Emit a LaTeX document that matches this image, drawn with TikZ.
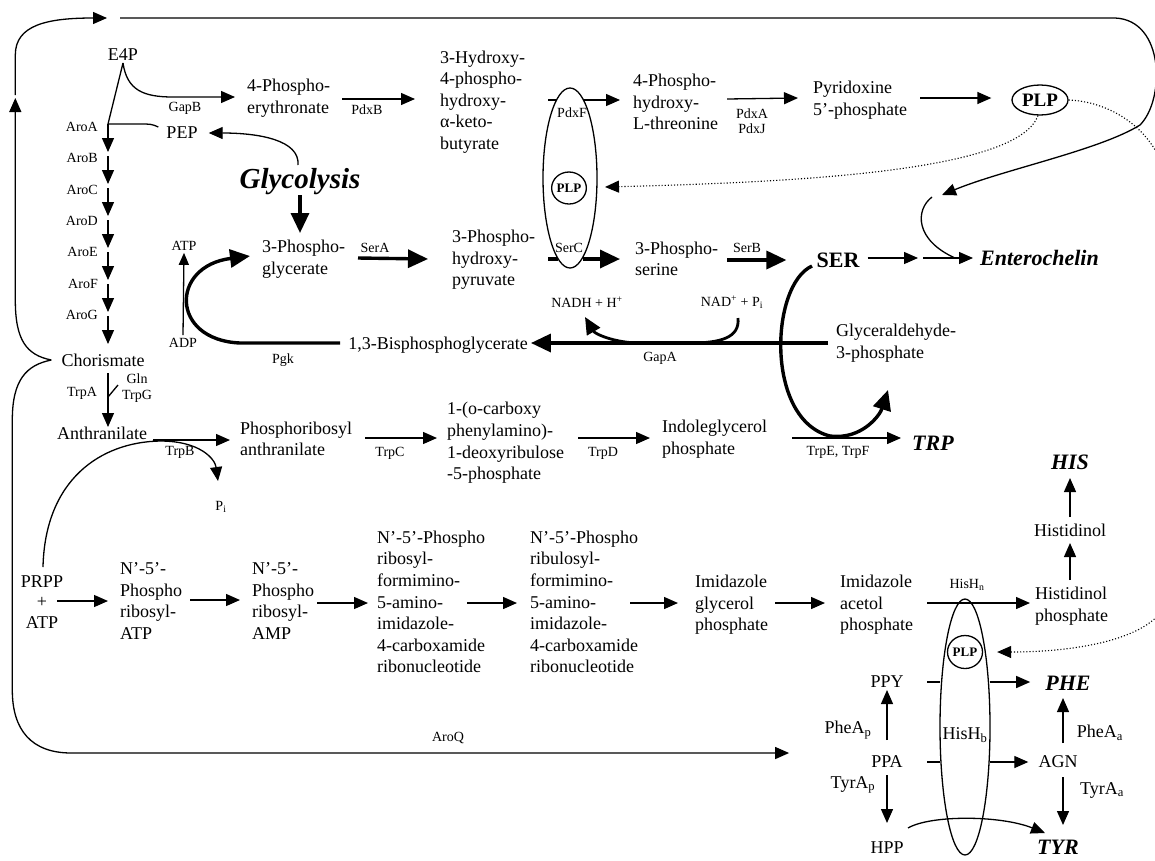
\documentclass[tikz,border=0pt]{standalone}
\usepackage{fontspec}
\setmainfont{Liberation Serif}
\usetikzlibrary{arrows.meta,shapes.geometric,calc}
\begin{document}
\begin{tikzpicture}[x=1pt,y=-1pt,
  txt/.style={inner sep=0pt, font=\fontsize{18}{21.6}\selectfont, align=left},
  ctxt/.style={inner sep=0pt, font=\fontsize{18}{20.5}\selectfont, align=center},
  lab/.style={inner sep=0pt, font=\fontsize{14}{15.5}\selectfont, align=center},
  bigbi/.style={inner sep=0pt, font=\fontsize{22}{24}\selectfont\bfseries\itshape},
  ln/.style={line width=1.3pt},
  tln/.style={line width=3.4pt},
  arr/.style={line width=1.3pt, -{Triangle[length=14pt,width=12pt]}},
  sarr/.style={line width=1.3pt, -{Triangle[length=12pt,width=10pt]}},
  marr/.style={line width=2.8pt, -{Triangle[length=17pt,width=15pt]}},
  tarr/.style={line width=3.4pt, -{Triangle[length=20pt,width=18pt]}},
  dotln/.style={line width=1.1pt, dotted, -{Triangle[length=14pt,width=12pt]}},
  enz/.style={draw, ellipse, line width=1.3pt, inner sep=0pt},
  plpsmall/.style={draw, ellipse, line width=1.3pt, inner sep=0pt, minimum width=33pt, minimum height=32pt, font=\fontsize{13}{14}\selectfont\bfseries}
]
\useasboundingbox (0,0) rectangle (1155,860);
\fill[white] (0,0) rectangle (1155,860);

% ---------- nodes: top part ----------
\node[txt] (e4p) at (123,55) {E4P};
\node[txt] (pep) at (182,133) {PEP};
\node[txt,anchor=west] (ery) at (247,98) {4-Phospho-\\erythronate};
\node[txt,anchor=west] (hkb) at (440,102) {3-Hydroxy-\\4-phospho-\\hydroxy-\\α-keto-\\butyrate};
\node[txt,anchor=west] (phlt) at (633,102) {4-Phospho-\\hydroxy-\\L-threonine};
\node[txt,anchor=west] (pyr) at (813,100) {Pyridoxine\\5’-phosphate};
\node[enz, minimum width=56pt, minimum height=30pt, font=\fontsize{19}{20}\selectfont\bfseries] (plp1) at (1040,100) {PLP};
\node[enz, minimum width=54pt, minimum height=180pt] (ell1) at (570,178) {};
\node[plpsmall] (plp2) at (569,188) {PLP};
\node[lab] (pdxf) at (572,113) {PdxF};
\node[lab] (serc) at (569,248) {SerC};
\node[inner sep=0pt, font=\fontsize{29}{30}\selectfont\bfseries\itshape] (glyc) at (300,182) {Glycolysis};
\node[txt,anchor=west] (pgly) at (262,259) {3-Phospho-\\glycerate};
\node[txt,anchor=west] (php) at (452,260) {3-Phospho-\\hydroxy-\\pyruvate};
\node[txt,anchor=west] (pser) at (635,259) {3-Phospho-\\serine};
\node[inner sep=0pt, font=\fontsize{22}{24}\selectfont\bfseries] (ser) at (838,260) {SER};
\node[bigbi,anchor=west] (ent) at (980,258) {Enterochelin};
\node[lab] (atp1) at (184,246) {ATP};
\node[lab] (adp) at (183,343) {ADP};
\node[lab] (pgk) at (283,360) {Pgk};
\node[txt] (bpg) at (438,345) {1,3-Bisphosphoglycerate};
\node[lab] (gapa) at (660,358) {GapA};
\node[lab] (nadh) at (587,302) {NADH + H\textsuperscript{+}};
\node[lab] (nad) at (732,302) {NAD\textsuperscript{+} + P\textsubscript{i}};
\node[txt,anchor=west] (gap) at (836,343) {Glyceraldehyde-\\3-phosphate};
\node[lab] (gapb) at (185,108) {GapB};
\node[lab] (pdxb) at (367,110) {PdxB};
\node[lab] (pdxaj) at (752,121) {PdxA\\PdxJ};
\node[lab] (sera) at (375,248) {SerA};
\node[lab] (serb) at (747,248) {SerB};
\foreach \n/\y in {A/127,B/158,C/190,D/221,E/252,F/284,G/315}
  \node[lab,anchor=east] (aro\n) at (98,\y) {Aro\n};

% ---------- tryptophan ----------
\node[txt] (chor) at (103,360) {Chorismate};
\node[lab] (trpa) at (82,393) {TrpA};
\node[lab] (glnt) at (137,388) {Gln\\TrpG};
\node[txt] (anth) at (102,433) {Anthranilate};
\node[lab] (trpb) at (180,452) {TrpB};
\node[lab] (pi1) at (221,507) {P\textsubscript{i}};
\node[txt,anchor=west] (pra) at (240,439) {Phosphoribosyl\\anthranilate};
\node[lab] (trpc) at (390,453) {TrpC};
\node[txt,anchor=west] (cdrp) at (447,443) {1-(o-carboxy\\phenylamino)-\\1-deoxyribulose\\-5-phosphate};
\node[lab] (trpd) at (603,453) {TrpD};
\node[txt,anchor=west] (igp) at (662,439) {Indoleglycerol\\phosphate};
\node[lab] (trpef) at (838,452) {TrpE, TrpF};
\node[bigbi] (trp) at (933,443) {TRP};

% ---------- histidine ----------
\node[bigbi] (his) at (1070,462) {HIS};
\node[txt] (hol) at (1070,530) {Histidinol};
\node[txt,anchor=west] (holp) at (1035,606) {Histidinol\\phosphate};
\node[ctxt] (prpp) at (42,602) {PRPP\\+\\ATP};
\node[txt,anchor=west] (prt) at (120,601) {N’-5’-\\Phospho\\ribosyl-\\ATP};
\node[txt,anchor=west] (pra2) at (252,601) {N’-5’-\\Phospho\\ribosyl-\\AMP};
\node[txt,anchor=west] (ff1) at (377,602) {N’-5’-Phospho\\ribosyl-\\formimino-\\5-amino-\\imidazole-\\4-carboxamide\\ribonucleotide};
\node[txt,anchor=west] (ff2) at (530,602) {N’-5’-Phospho\\ribulosyl-\\formimino-\\5-amino-\\imidazole-\\4-carboxamide\\ribonucleotide};
\node[txt,anchor=west] (igp2) at (695,605) {Imidazole\\glycerol\\phosphate};
\node[txt,anchor=west] (iap) at (840,605) {Imidazole\\acetol\\phosphate};
\node[lab] (hishn) at (967,585) {HisH\textsubscript{n}};

% ---------- aromatic ----------
\node[enz, minimum width=50pt, minimum height=256pt] (ell2) at (965,727) {};
\node[plpsmall, minimum width=35pt, minimum height=33pt] (plp3) at (965,652) {PLP};
\node[txt] (hishb) at (965,735) {HisH\textsubscript{b}};
\node[txt] (ppy) at (887,682) {PPY};
\node[bigbi] (phe) at (1068,683) {PHE};
\node[txt] (pheap) at (848,730) {PheA\textsubscript{p}};
\node[txt] (ppa) at (887,762) {PPA};
\node[txt] (agn) at (1058,762) {AGN};
\node[txt] (tyrap) at (853,785) {TyrA\textsubscript{p}};
\node[txt] (hpp) at (887,848) {HPP};
\node[bigbi] (tyr) at (1058,847) {TYR};
\node[txt] (pheaa) at (1100,733) {PheA\textsubscript{a}};
\node[txt] (tyraa) at (1102,790) {TyrA\textsubscript{a}};
\node[lab] (aroq) at (448,738) {AroQ};

% ---------- coordinates ----------
\coordinate (jA) at (108,124);
\coordinate (brace) at ($(chor.west)+(-10,0)$);
\coordinate (tl) at ($(e4p)+(-3,-37)$);

% ---------- connectors: top ----------
\draw[ln] ($(e4p)+(0,8)$) -- (jA);
\draw[arr] ($(e4p)+(0,8)$) .. controls +(4,27) and +(-30,0) .. ($(e4p)+(50,42)$) -- ($(ery.west)+(-12,-1)$);
\draw[ln] (jA) -- ++(33,0) .. controls +(8,0) and +(-6,-3) .. ($(pep.west)+(-8,-6)$);
\foreach \k in {0,...,6} \draw[arr] ($(jA)+(0,32*\k)$) -- ++(0,28);
\draw[arr] ($(ery.west)+(95,1)$) -- ($(hkb.west)+(-25,-3)$);
\draw[ln] ($(hkb.west)+(108,-2)$) -- ++(9,0);
\draw[arr] ($(ell1)+(14,-78)$) -- ($(phlt.west)+(-13,-2)$);
\draw[arr] ($(phlt.west)+(94,-3)$) -- ($(pyr.west)+(-15,-2)$);
\draw[arr] ($(pyr.west)+(107,-2)$) -- ($(plp1.west)+(-20,-2)$);

\draw[arr] ($(glyc)+(-2,-17)$) .. controls +(2,-25) and +(50,0) .. ($(pep.east)+(11,0)$);
\draw[tarr] ($(glyc)+(0,13)$) -- ($(glyc)+(0,51)$);
\draw[tarr] ($(pgly.west)+(96,-1)$) -- ($(php.west)+(-24,-1)$);
\draw[tln] ($(php.west)+(96,-1)$) -- ++(10,0);
\draw[tarr] ($(ell1)+(13,81)$) -- ($(pser.west)+(-15,0)$);
\draw[tarr] ($(pser.west)+(92,1)$) -- ($(ser.west)+(-30,0)$);
\draw[arr] ($(ser.east)+(8,-2)$) -- ($(ent.west)+(-62,0)$);
\draw[arr] ($(ent.west)+(-57,0)$) -- ($(ent.west)+(-7,0)$);
\draw[ln] ($(ent.west)+(-48,-61)$) .. controls +(-17,13) and +(-40,-18) .. ($(ent.west)+(-25,0)$);

% glycolysis lower part
\draw[tarr] ($(gap.west)+(-8,0)$) -- ($(bpg.east)+(3,-2)$);
\draw[marr] ($(nad)+(6,16)$) .. controls +(2,20) and +(30,0) .. ($(gapa)+(30,-15)$) -- ($(gapa)+(-20,-15)$) .. controls +(-25,0) and +(10,17) .. ($(nadh)+(-2,15)$);
\draw[tarr] ($(bpg.west)+(-8,-2)$) -- ($(pgk)+(-43,-17)$) .. controls +(-70,-3) and +(-80,10) .. ($(pgly.west)+(-12,-3)$);
\draw[sarr] ($(adp.north)+(0,-3)$) -- ($(atp1.south)+(0,2)$);

% serine to tryptophan
\draw[tarr] ($(ser)+(-26,6)$) .. controls +(-42,19) and +(-65,-16) .. ($(trpef)+(-8,-16)$) .. controls +(32,4) and +(-8,25) .. ($(trp)+(-45,-53)$);

% big loops
\draw[arr] (brace) .. controls +(-25,-5) and +(0,40) .. ($(brace)+(-36,-60)$) -- ($(brace)+(-36,-262)$);
\draw[arr] ($(brace)+(-36,-265)$) -- ($(brace)+(-36,-305)$) .. controls +(0,-30) and +(-60,0) .. ($(e4p)+(-16,-37)$);
\draw[arr] (tl) -- ($(plp1)+(75,-82)$) .. controls +(50,2) and +(25,-25) .. ($(plp1)+(100,25)$) .. controls +(-40,25) and +(60,-25) .. ($(ent.west)+(-38,-63)$);
\draw[arr] (brace) .. controls +(-25,5) and +(0,-40) .. ($(brace)+(-39,60)$) -- ($(brace)+(-39,330)$) .. controls +(0,40) and +(-40,0) .. ($(brace)+(20,393)$) -- ($(ppa.west)+(-82,-9)$);

% dotted PLP
\draw[dotln] ($(plp1.south)+(-2,0)$) .. controls +(-20,55) and +(200,-5) .. ($(plp2.east)+(18,-1)$);
\draw[dotln] (plp1.east) .. controls +(50,2) and +(0,-60) .. ($(plp1.east)+(100,100)$) -- ($(plp1.east)+(100,490)$) .. controls +(0,45) and +(90,0) .. ($(plp3.east)+(14,0)$);

% ---------- connectors: tryptophan ----------
\draw[arr] ($(chor)+(5,13)$) -- ($(anth)+(6,-6)$);
\draw[ln] ($(chor)+(5,37)$) -- ++(10,-12);
\draw[arr] ($(anth.east)+(6,7)$) -- ($(pra.west)+(-10,1)$);
\draw[arr] ($(prpp)+(1,-35)$) .. controls +(2,-87) and +(-60,1) .. ($(anth.east)+(13,8)$) .. controls +(40,0) and +(-3,-22) .. ($(pi1)+(-3,-26)$);
\draw[arr] ($(pra.west)+(125,-1)$) -- ($(cdrp.west)+(-10,-5)$);
\draw[arr] ($(cdrp.west)+(131,-5)$) -- ($(igp.west)+(-12,-1)$);
\draw[arr] ($(igp.west)+(130,-1)$) -- ($(trp.west)+(-11,-5)$);

% ---------- connectors: histidine ----------
\draw[arr] ($(prpp)+(15,-1)$) -- ($(prt.west)+(-12,0)$);
\draw[arr] ($(prt.west)+(70,-1)$) -- ($(pra2.west)+(-12,-1)$);
\draw[arr] ($(pra2.west)+(65,2)$) -- ($(ff1.west)+(-9,1)$);
\draw[arr] ($(ff1.west)+(90,1)$) -- ($(ff2.west)+(-13,1)$);
\draw[arr] ($(ff2.west)+(100,1)$) -- ($(igp2.west)+(-17,-2)$);
\draw[arr] ($(igp2.west)+(80,-2)$) -- ($(iap.west)+(-15,-2)$);
\draw[arr] ($(iap.west)+(87,-2)$) -- ($(holp.west)+(-5,-3)$);
\draw[arr] ($(hol)+(0,50)$) -- ($(hol)+(0,13)$);
\draw[arr] ($(hol)+(0,-13)$) -- ($(his)+(0,16)$);

% ---------- connectors: aromatic ----------
\draw[ln] ($(ppy)+(40,0)$) -- ($(ell2)+(-25,-45)$);
\draw[arr] ($(ell2)+(25,-45)$) -- ($(phe.west)+(-15,-1)$);
\draw[ln] ($(ppa)+(40,0)$) -- ($(ell2)+(-25,35)$);
\draw[arr] ($(ell2)+(25,35)$) -- ($(agn.west)+(-10,0)$);
\draw[arr] ($(ppa)+(0,-22)$) -- ($(ppy)+(0,8)$);
\draw[arr] ($(ppa)+(0,13)$) -- ($(hpp)+(0,-25)$);
\draw[arr] ($(agn)+(5,-19)$) -- ($(phe)+(-5,15)$);
\draw[arr] ($(agn)+(5,15)$) -- ($(tyr)+(5,-22)$);
\draw[arr] ($(hpp)+(21,-20)$) .. controls +(22,-13) and +(-45,-18) .. ($(tyr)+(-13,-14)$);
\end{tikzpicture}
\end{document}
